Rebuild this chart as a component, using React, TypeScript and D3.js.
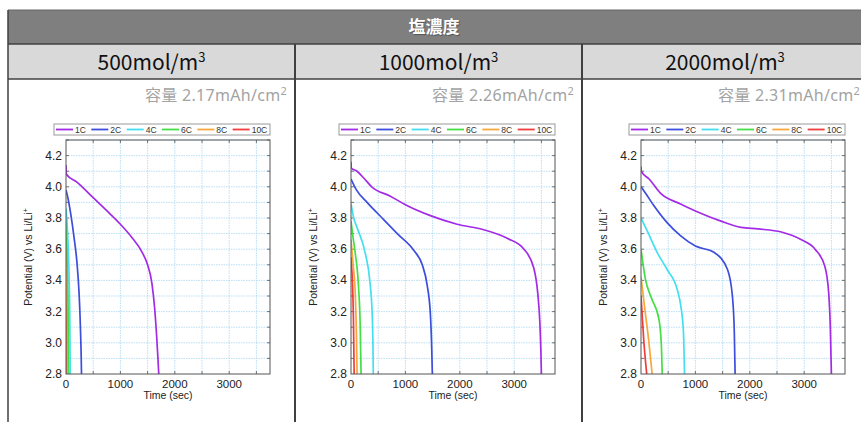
import React from "react";
import * as d3 from "d3";

// columns of the table
const concentrations = ["500", "1000", "2000"];
const capacities = ["2.17", "2.26", "2.31"];
const rates = ["1C", "2C", "4C", "6C", "8C", "10C"];
const rateColors = ["#a32be6", "#3d4ddc", "#43dff0", "#45de45", "#f6a83c", "#f03c3c"];

const xTicks = [0, 1000, 2000, 3000];
const yTicks = [2.8, 3.0, 3.2, 3.4, 3.6, 3.8, 4.0, 4.2];

// discharge curves [time sec, potential V]
const m500_1C = [[0, 4.14], [8, 4.08], [200, 4.03], [500, 3.93], [800, 3.83], [1000, 3.76], [1200, 3.68], [1400, 3.58], [1500, 3.5], [1580, 3.38], [1630, 3.22], [1665, 3.05], [1690, 2.9], [1705, 2.8]];
const m500_2C = [[0, 3.98], [40, 3.92], [90, 3.82], [150, 3.67], [200, 3.52], [240, 3.32], [265, 3.1], [280, 2.9], [285, 2.8]];
const m500_4C = [[0, 3.86], [30, 3.7], [55, 3.45], [70, 3.15], [78, 2.8]];
const m500_6C = [[0, 3.78], [20, 3.6], [35, 3.35], [45, 3.05], [50, 2.8]];
const m500_8C = [[0, 3.62], [15, 3.4], [25, 3.1], [32, 2.8]];
const m500_10C = [[0, 3.5], [10, 3.3], [17, 3.05], [20, 2.8]];

const m1000_1C = [[0, 4.16], [5, 4.12], [110, 4.1], [250, 4.05], [380, 4.0], [724, 3.94], [1000, 3.885], [1460, 3.815], [1950, 3.76], [2440, 3.725], [2870, 3.67], [3180, 3.6], [3360, 3.48], [3435, 3.31], [3470, 3.14], [3490, 2.95], [3500, 2.8]];
const m1000_2C = [[0, 4.05], [100, 3.98], [295, 3.9], [600, 3.79], [850, 3.7], [1160, 3.59], [1310, 3.5], [1400, 3.37], [1460, 3.18], [1485, 2.95], [1495, 2.8]];
const m1000_4C = [[0, 3.89], [50, 3.8], [110, 3.74], [265, 3.57], [345, 3.4], [390, 3.18], [405, 2.95], [410, 2.8]];
const m1000_6C = [[0, 3.78], [40, 3.67], [80, 3.57], [140, 3.35], [170, 3.1], [185, 2.8]];
const m1000_8C = [[0, 3.66], [40, 3.5], [80, 3.3], [100, 3.05], [112, 2.8]];
const m1000_10C = [[0, 3.55], [25, 3.4], [45, 3.15], [58, 2.8]];

const m2000_1C = [[0, 4.13], [5, 4.1], [150, 4.05], [356, 3.96], [727, 3.89], [1000, 3.845], [1470, 3.78], [1840, 3.74], [2150, 3.73], [2580, 3.71], [2950, 3.66], [3200, 3.6], [3380, 3.49], [3450, 3.32], [3480, 3.1], [3500, 2.8]];
const m2000_2C = [[0, 4.0], [100, 3.95], [235, 3.88], [480, 3.77], [730, 3.685], [1000, 3.62], [1340, 3.58], [1590, 3.47], [1680, 3.3], [1715, 3.07], [1730, 2.8]];
const m2000_4C = [[0, 3.8], [110, 3.72], [296, 3.58], [480, 3.47], [667, 3.34], [730, 3.24], [780, 3.07], [800, 2.8]];
const m2000_6C = [[0, 3.6], [80, 3.41], [200, 3.28], [330, 3.15], [375, 2.98], [390, 2.8]];
const m2000_8C = [[0, 3.42], [80, 3.19], [140, 3.02], [205, 2.8]];
const m2000_10C = [[0, 3.3], [50, 3.02], [105, 2.8]];

const panelCurves = [
  [m500_1C, m500_2C, m500_4C, m500_6C, m500_8C, m500_10C],
  [m1000_1C, m1000_2C, m1000_4C, m1000_6C, m1000_8C, m1000_10C],
  [m2000_1C, m2000_2C, m2000_4C, m2000_6C, m2000_8C, m2000_10C],
];

const W = 861;
const H = 422;
const colX = [8, 295, 582, 868];
const plotLeft = [66, 351, 641];
const plotW = 204;
const plotTop = 140;
const plotBottom = 374;
const sans = "'Liberation Sans', Arial, sans-serif";
const jp = "'Noto Sans CJK JP', 'Noto Sans', sans-serif";

function Panel({ idx }: { idx: number }) {
  const left = plotLeft[idx];
  const x = d3.scaleLinear().domain([0, 3750]).range([left, left + plotW]);
  const y = d3.scaleLinear().domain([2.8, 4.3]).range([plotBottom, plotTop]);
  const line = d3
    .line<number[]>()
    .x((d) => x(d[0]))
    .y((d) => y(d[1]))
    .curve(d3.curveMonotoneX);

  const xGrid = d3.range(500, 3751, 500);
  const yGrid = d3.range(2.9, 4.301, 0.1);
  const legendLeft = left - 12;
  const legendW = plotW + 12;
  const itemW = (legendW - 4) / rates.length;
  const clipId = `clip${idx}`;

  return (
    <g>
      <text
        x={colX[idx + 1] - 8}
        y={101}
        textAnchor="end"
        fontFamily="'Noto Sans', 'Noto Sans CJK JP', sans-serif"
        fontSize={16}
        letterSpacing={0.3}
        fill="#a3a3a3"
      >
        <tspan fontFamily={jp}>容量</tspan> {capacities[idx]}mAh/cm
        <tspan fontSize={11} dy={-6}>2</tspan>
      </text>

      {/* legend */}
      <rect x={legendLeft} y={124} width={legendW} height={11} fill="#fff" stroke="#9a9a9a" strokeWidth={1} />
      {rates.map((r, i) => {
        const ix = legendLeft + 2 + i * itemW;
        return (
          <g key={r}>
            <line x1={ix} x2={ix + 17} y1={129.5} y2={129.5} stroke={rateColors[i]} strokeWidth={1.8} />
            <text x={ix + 19} y={132.8} fontFamily={sans} fontSize={8.5} fill="#333">
              {r}
            </text>
          </g>
        );
      })}

      {/* grid */}
      <g stroke="#a9d6f2" strokeWidth={0.8} strokeDasharray="1.5,1">
        {xGrid.map((t) => (
          <line key={"gx" + t} x1={x(t)} x2={x(t)} y1={plotTop} y2={plotBottom} />
        ))}
        {yGrid.map((v) => (
          <line key={"gy" + v} x1={left} x2={left + plotW} y1={y(v)} y2={y(v)} />
        ))}
      </g>

      {/* inward ticks */}
      <g stroke="#555" strokeWidth={0.8}>
        {xGrid.map((t) => (
          <g key={"tx" + t}>
            <line x1={x(t)} x2={x(t)} y1={plotBottom} y2={plotBottom - 3} />
            <line x1={x(t)} x2={x(t)} y1={plotTop} y2={plotTop + 3} />
          </g>
        ))}
        {yGrid.map((v) => (
          <g key={"ty" + v}>
            <line x1={left} x2={left + 3} y1={y(v)} y2={y(v)} />
            <line x1={left + plotW} x2={left + plotW - 3} y1={y(v)} y2={y(v)} />
          </g>
        ))}
      </g>

      <clipPath id={clipId}>
        <rect x={left} y={plotTop} width={plotW} height={plotBottom - plotTop} />
      </clipPath>
      <g clipPath={`url(#${clipId})`} fill="none" strokeWidth={1.7}>
        {panelCurves[idx]
          .map((c, i) => ({ c, i }))
          .reverse()
          .map(({ c, i }) => (
            <path key={i} d={line(c) || ""} stroke={rateColors[i]} />
          ))}
      </g>

      <rect x={left} y={plotTop} width={plotW} height={plotBottom - plotTop} fill="none" stroke="#555" strokeWidth={1} />

      {yTicks.map((v) => (
        <text key={"yl" + v} x={left - 4} y={y(v) + 4} textAnchor="end" fontFamily={sans} fontSize={12} fill="#222">
          {v.toFixed(1)}
        </text>
      ))}
      {xTicks.map((t) => (
        <text key={"xl" + t} x={x(t)} y={388} textAnchor="middle" fontFamily={sans} fontSize={11.5} fill="#222">
          {t}
        </text>
      ))}
      <text x={x(1875)} y={399} textAnchor="middle" fontFamily={sans} fontSize={10.5} fill="#222">
        Time (sec)
      </text>
      <text
        transform={`translate(${left - 34},${(plotTop + plotBottom) / 2}) rotate(-90)`}
        textAnchor="middle"
        fontFamily={sans}
        fontSize={10.5}
        fill="#222"
      >
        Potential (V) vs Li/Li<tspan fontSize={7} dy={-4}>+</tspan>
      </text>
    </g>
  );
}

export default function App() {
  return (
    <svg
      width={W}
      height={H}
      style={{ position: "absolute", left: 0, top: 0, background: "#fff" }}
    >
      <rect x={colX[0]} y={10} width={W - colX[0]} height={34} fill="#7f7f7f" />
      <rect x={colX[0]} y={44} width={W - colX[0]} height={35} fill="#d9d9d9" />
      <text
        x={434}
        y={33}
        textAnchor="middle"
        fontFamily={jp}
        fontWeight={700}
        fontSize={17}
        fill="#fff"
        style={{ textShadow: "1px 1px 1px #555" }}
      >
        塩濃度
      </text>
      {concentrations.map((c, i) => {
        const cx = i < 2 ? (colX[i] + colX[i + 1]) / 2 : 725;
        return (
          <text key={c} x={cx} y={70} textAnchor="middle" fontFamily={jp} fontWeight={400} fontSize={21} fill="#111">
            {c}mol/m<tspan fontSize={13} dy={-8}>3</tspan>
          </text>
        );
      })}
      <g stroke="#404040" strokeWidth={1.5}>
        <line x1={colX[0]} x2={W} y1={10} y2={10} strokeWidth={1} stroke="#666" />
        <line x1={colX[0]} x2={W} y1={44} y2={44} />
        <line x1={colX[0]} x2={W} y1={79} y2={79} />
        <line x1={colX[0]} x2={colX[0]} y1={10} y2={H} />
        <line x1={colX[1]} x2={colX[1]} y1={44} y2={H} strokeWidth={2} />
        <line x1={colX[2]} x2={colX[2]} y1={44} y2={H} strokeWidth={2} />
      </g>
      {concentrations.map((c, i) => (
        <Panel key={c} idx={i} />
      ))}
    </svg>
  );
}
